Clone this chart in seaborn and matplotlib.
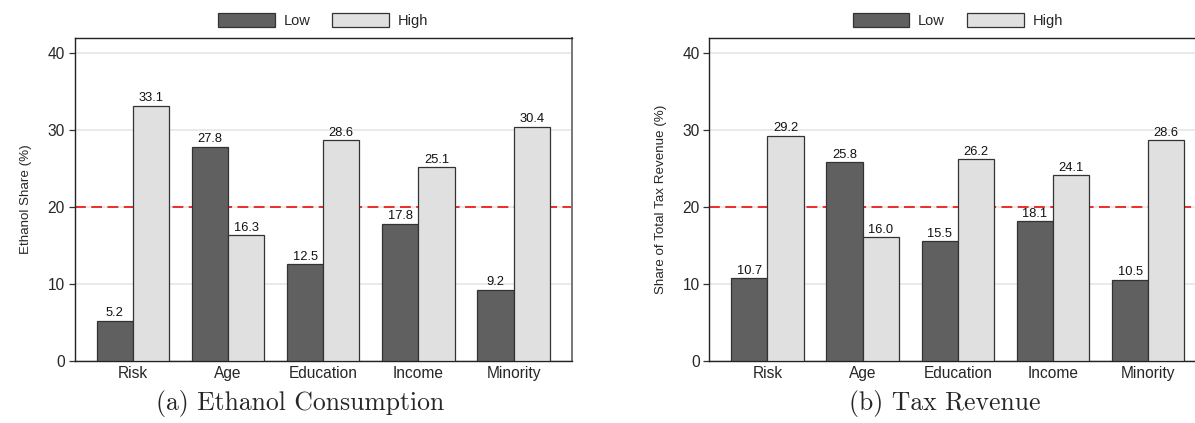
import matplotlib
matplotlib.use("Agg")
import matplotlib.pyplot as plt
import seaborn as sns
import pandas as pd

categories = ["Risk", "Age", "Education", "Income", "Minority"]
levels = ["Low", "High"]
ethanol_low = [5.2, 27.8, 12.5, 17.8, 9.2]
ethanol_high = [33.1, 16.3, 28.6, 25.1, 30.4]
tax_low = [10.7, 25.8, 15.5, 18.1, 10.5]
tax_high = [29.2, 16.0, 26.2, 24.1, 28.6]
yticks = [0, 10, 20, 30, 40]
reference_value = 20
ylabels = ["Ethanol Share (%)", "Share of Total Tax Revenue (%)"]
captions = ["(a) Ethanol Consumption", "(b) Tax Revenue"]

sns.set_style("white")
plt.rcParams["font.family"] = ["Liberation Sans", "DejaVu Sans"]

def make_df(low, high):
    rows = []
    for c, l, h in zip(categories, low, high):
        rows.append({"Category": c, "Level": "Low", "Value": l})
        rows.append({"Category": c, "Level": "High", "Value": h})
    return pd.DataFrame(rows)

fig = plt.figure(figsize=(11.95, 4.23), dpi=100)
W = 497 / 1195
ax_pos = [
    [74.7 / 1195, (423 - 360.7) / 423, W, (360.7 - 38.3) / 423],
    [709.3 / 1195, (423 - 360.7) / 423, W, (360.7 - 38.3) / 423],
]
palette = {"Low": "#606060", "High": "#e0e0e0"}
datasets = [(ethanol_low, ethanol_high), (tax_low, tax_high)]
caption_x = [300 / 1195, 945 / 1195]

for i, (low, high) in enumerate(datasets):
    ax = fig.add_axes(ax_pos[i])
    df = make_df(low, high)
    sns.barplot(data=df, x="Category", y="Value", hue="Level", hue_order=levels,
                order=categories, palette=palette, width=0.76, gap=0,
                edgecolor="#333333", linewidth=0.9, ax=ax, zorder=3,
                errorbar=None)
    for cont in ax.containers:
        ax.bar_label(cont, fmt="%.1f", padding=1, fontsize=9.3, color="#111111")
    ax.axhline(reference_value, color="#ee1c1c", linestyle=(0, (6, 3)), linewidth=1.3, zorder=2)
    ax.set_ylim(0, 41.87)
    ax.set_xlim(-0.61, 4.61)
    ax.set_yticks(yticks)
    ax.yaxis.grid(True, color="#e8e8e8", linewidth=1.3, zorder=0)
    ax.xaxis.grid(False)
    ax.set_axisbelow(True)
    ax.tick_params(axis="y", which="both", left=True, length=4, width=0.9, color="#333333",
                   labelsize=11.2, pad=3)
    ax.tick_params(axis="x", length=0, labelsize=11.2, pad=4)
    ax.set_xlabel("")
    ax.set_ylabel(ylabels[i], fontsize=9.6, labelpad=11)
    for side in ["left", "top", "bottom"]:
        ax.spines[side].set_color("#222222")
        ax.spines[side].set_linewidth(1.0)
    ax.spines["right"].set_color("#777777")
    ax.spines["right"].set_linewidth(1.4)
    leg = ax.get_legend()
    if leg is not None:
        leg.remove()
    handles = [plt.Rectangle((0, 0), 1, 1, facecolor=palette[l], edgecolor="#333333", linewidth=0.9)
               for l in levels]
    ax.legend(handles, levels, loc="lower center", bbox_to_anchor=(0.5, 1.005), ncol=2,
              frameon=False, fontsize=10.5, handlelength=3.9, handleheight=1.1,
              handletextpad=0.6, columnspacing=1.5, borderaxespad=0.2)
    fig.text(caption_x[i], 1 - 403 / 423, captions[i], ha="center", va="center",
             fontsize=18.5, family="cmr10")

fig.savefig("out.png", dpi=100)
